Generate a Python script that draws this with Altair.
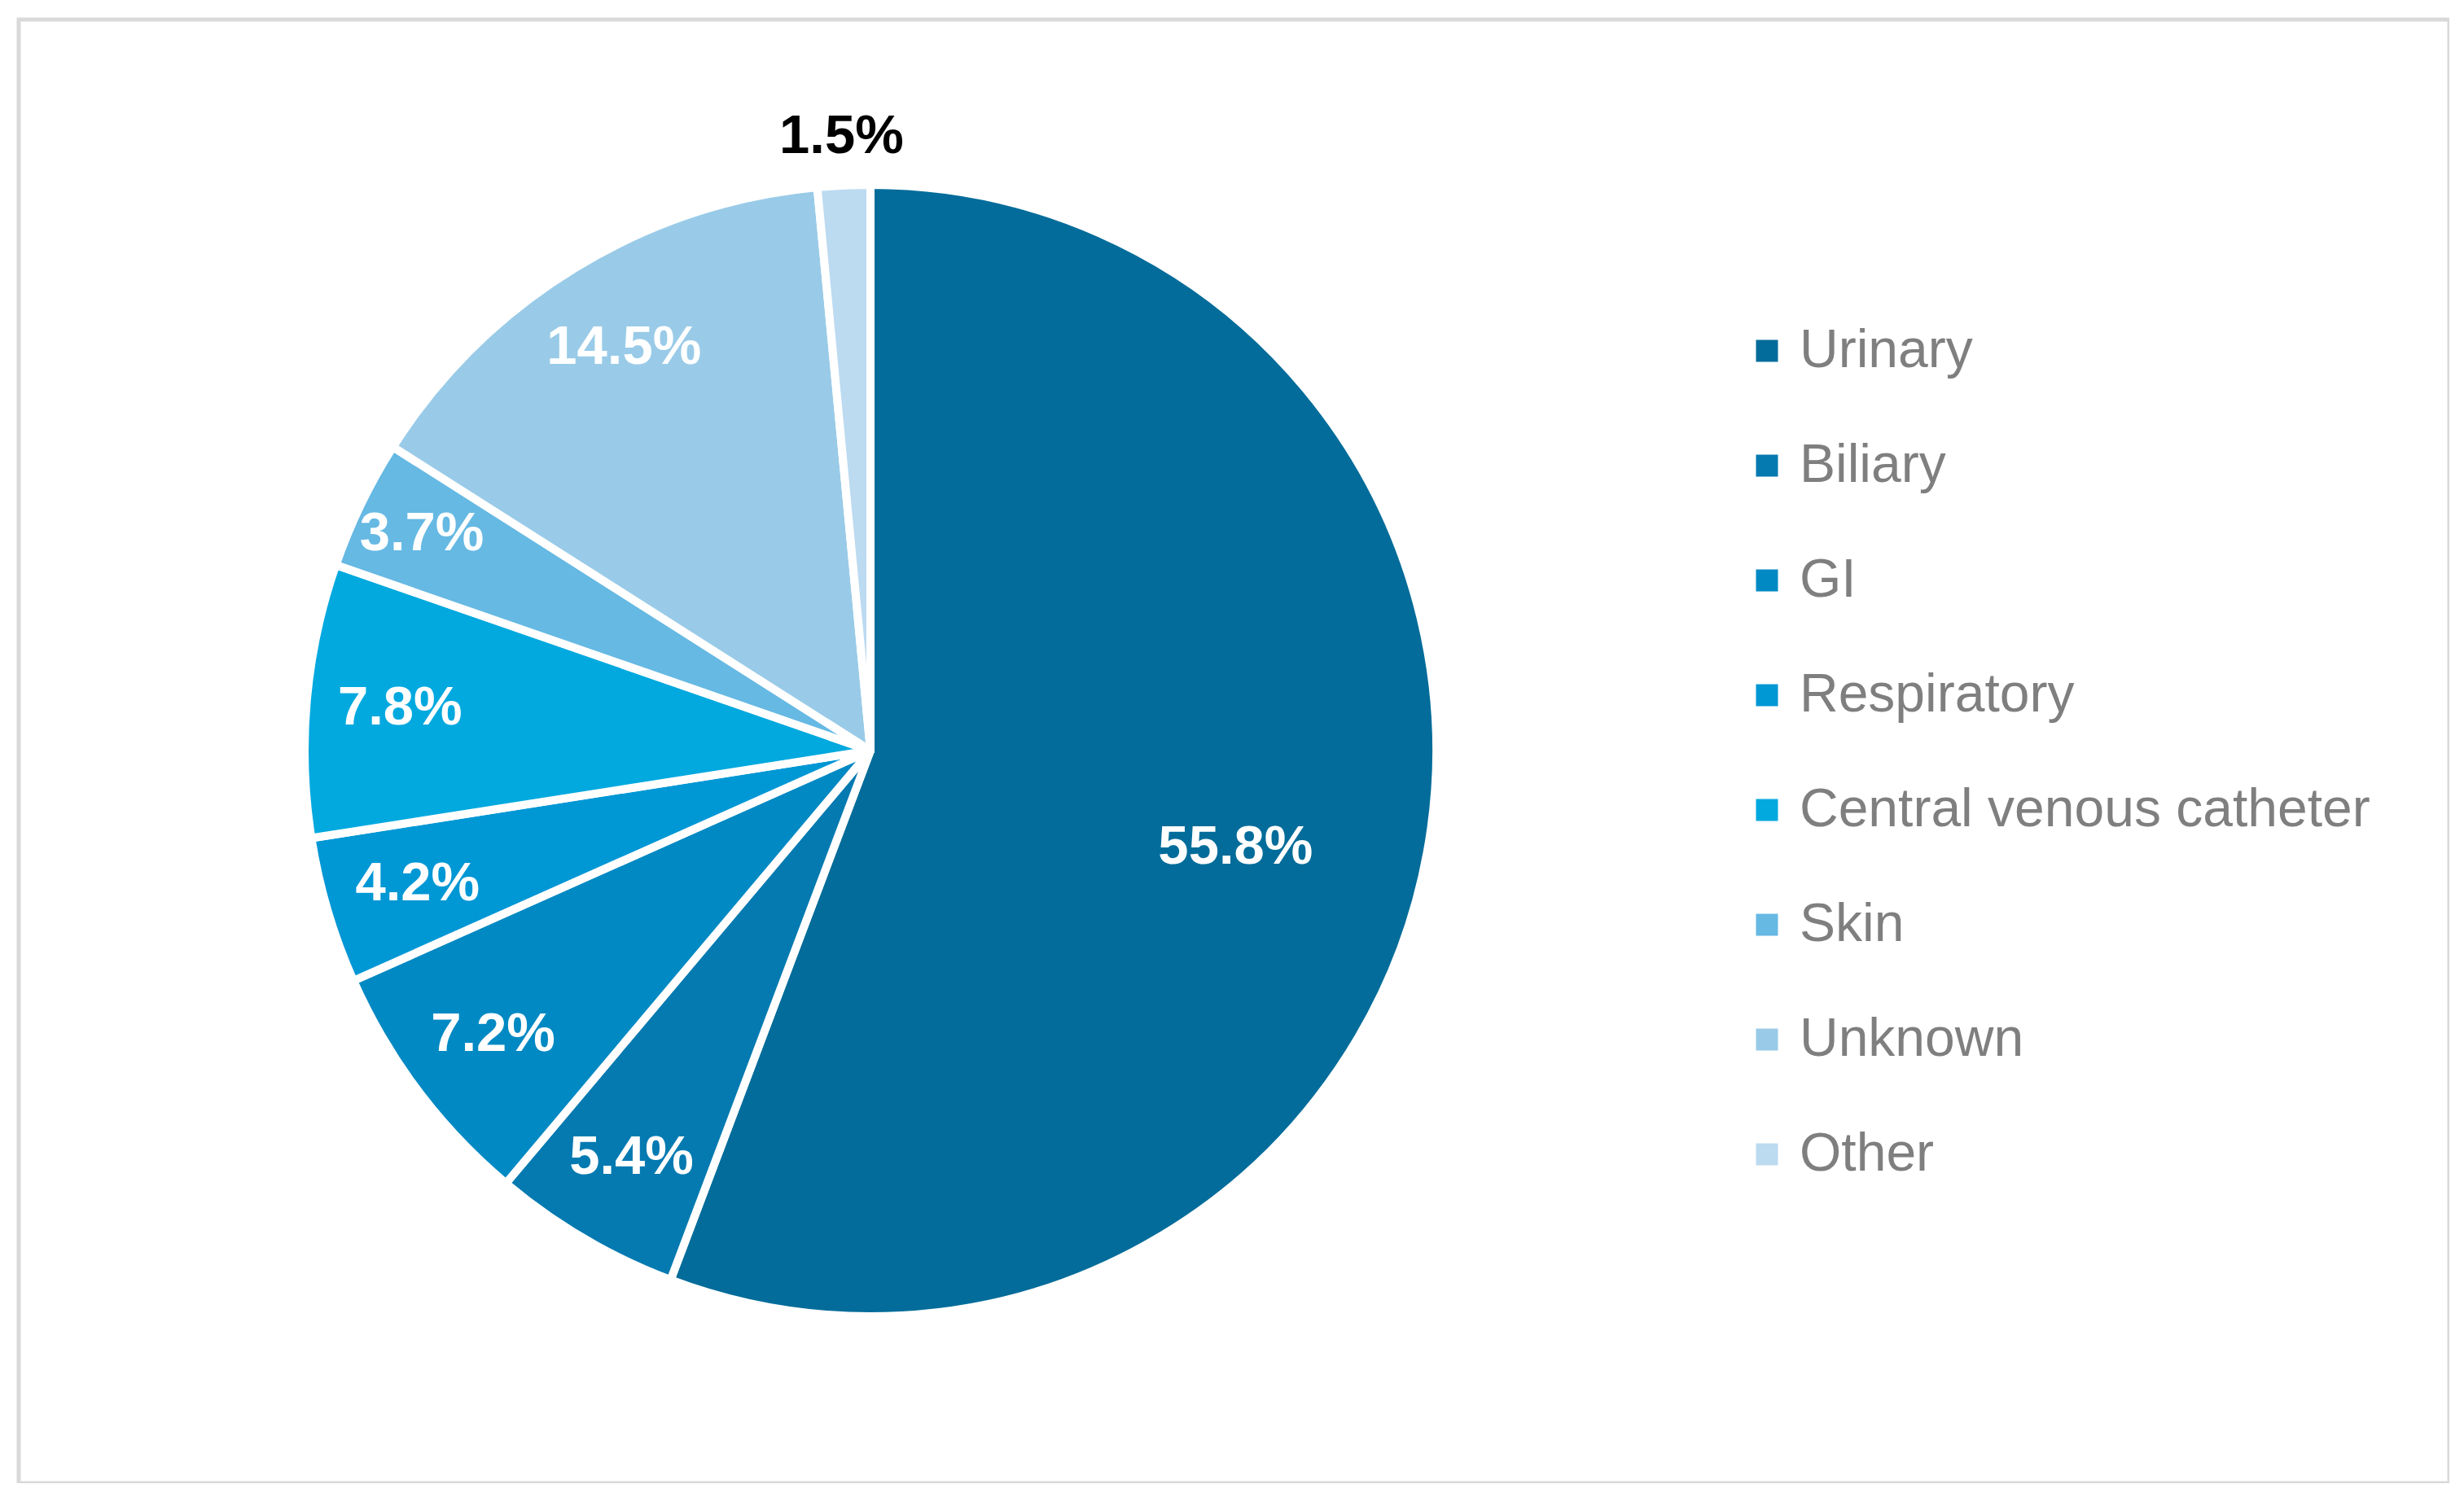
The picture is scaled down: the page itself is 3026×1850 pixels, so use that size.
import altair as alt
import pandas as pd

categories = ["Urinary", "Biliary", "GI", "Respiratory", "Central venous catheter",
              "Skin", "Unknown", "Other"]
shares = [55.8, 5.4, 7.2, 4.2, 7.8, 3.7, 14.5, 1.5]
colors = ["#036C9A", "#047AB1", "#0189C3", "#0097D5", "#02A9DF",
          "#66B9E3", "#99CBE8", "#BCDAF0"]

df = pd.DataFrame({"category": categories, "share": shares,
                   "idx": list(range(len(categories)))})

CX, CY = 1046, 898

base = alt.Chart(df).encode(
    theta=alt.Theta("share:Q", stack=True),
    order=alt.Order("idx:Q", sort="ascending"),
)

arcs = base.mark_arc(radius=695, stroke="white", strokeWidth=10, strokeJoin="round").encode(
    x=alt.value(CX),
    y=alt.value(CY),
    color=alt.Color(
        "category:N",
        scale=alt.Scale(domain=categories, range=colors),
        sort=categories,
        legend=alt.Legend(
            title=None, orient="none", legendX=2114, legendY=374,
            direction="vertical", symbolType="square", symbolSize=729,
            symbolStrokeWidth=0, labelFont="Liberation Sans", labelFontSize=66,
            labelColor="#7F7F7F", labelOffset=7, rowPadding=75, padding=0,
            labelLimit=1000,
        ),
    ),
)


def label_layer(cond, r, color, theta_offset=0.0):
    return base.transform_calculate(
        t=f"({cond}) ? format(datum.share, '.1f') + '%' : ''"
    ).mark_text(
        radius=r, thetaOffset=theta_offset, font="Liberation Sans", fontSize=67,
        fontWeight="bold", color=color, align="center", baseline="middle",
    ).encode(x=alt.value(CX), y=alt.value(CY), text="t:N")


lab_big = label_layer("datum.category === 'Urinary'", 464, "white", 0.08)
lab_mid = label_layer("datum.category !== 'Urinary' && datum.category !== 'Other' && datum.category !== 'Skin'", 580, "white")
lab_skin = label_layer("datum.category === 'Skin'", 612, "white")
lab_out = label_layer("datum.category === 'Other'", 755, "black")

chart = alt.layer(arcs, lab_big, lab_mid, lab_skin, lab_out).properties(
    width=2985, height=1798,
    padding={"left": 15, "top": 16, "right": 0, "bottom": 0},
    background="white",
).configure_view(stroke="#D9D9D9", strokeWidth=5)

chart.save("out.html", embed_options={"renderer": "svg", "actions": False})
